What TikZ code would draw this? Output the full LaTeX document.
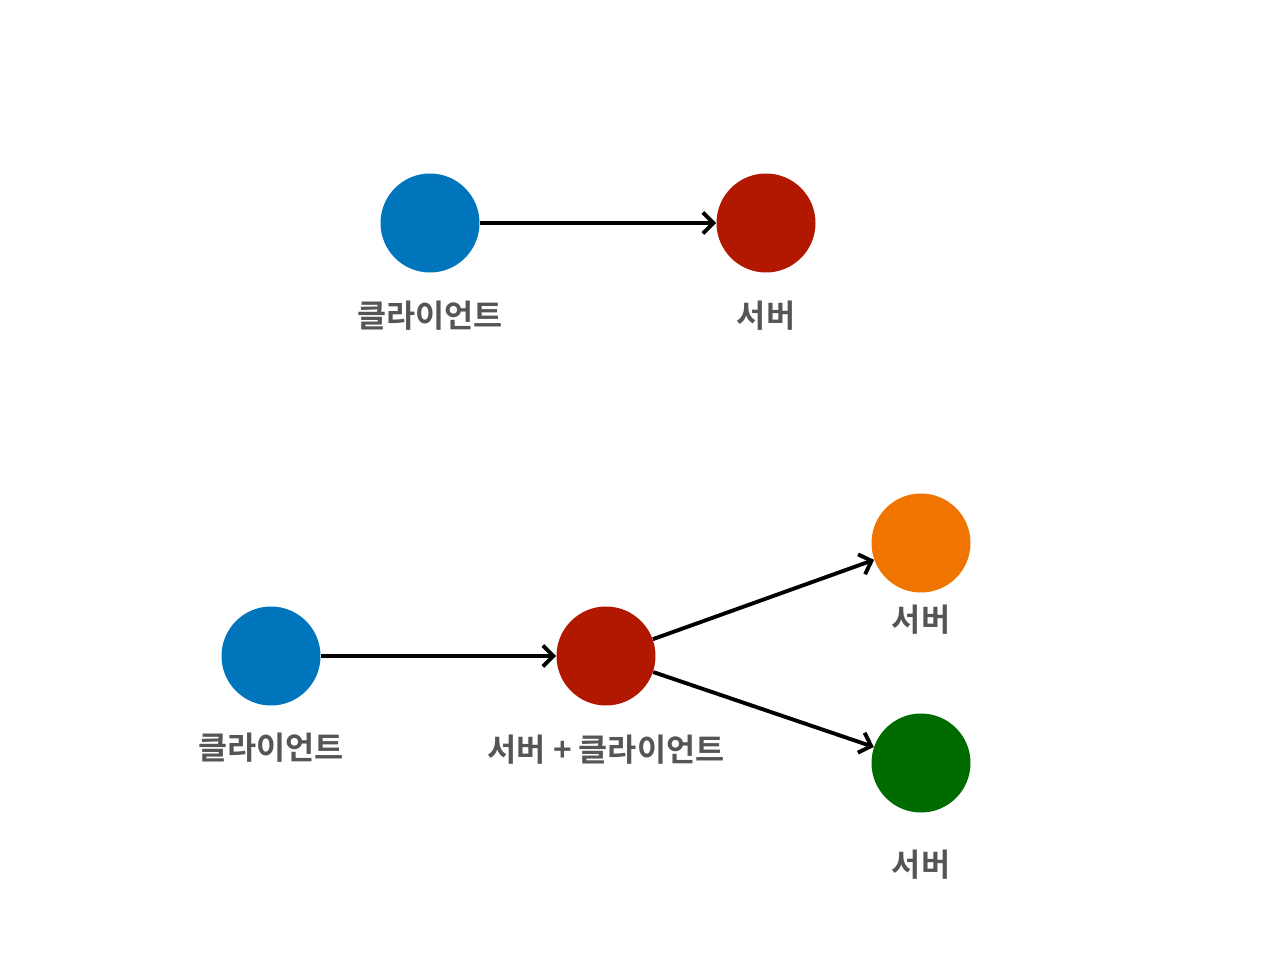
\documentclass[tikz,border=0pt]{standalone}
\usepackage{fontspec}
\newfontfamily\kofont{Noto Sans CJK KR Bold}
\usetikzlibrary{arrows.meta}

\definecolor{cblue}{HTML}{0075BB}
\definecolor{cred}{HTML}{B21800}
\definecolor{corange}{HTML}{F07400}
\definecolor{cgreen}{HTML}{006C00}
\definecolor{ctext}{HTML}{555555}

\begin{document}
\begin{tikzpicture}[x=0.02cm,y=-0.02cm,
  dot/.style={circle,inner sep=0pt,minimum size=1.98cm},
  tag/.style={text=ctext,font=\kofont\fontsize{18}{22}\selectfont},
  link/.style={-{Straight Barb[length=6pt,width=12pt]},line width=2.2pt}]
\useasboundingbox (0,0) rectangle (1280,956);

% Top: client -> server
\node[dot,fill=cblue] (client1) at (430,223) {};
\node[dot,fill=cred] (server1) at (766,223) {};
\node[tag] (clientlbl1) at (430,316) {클라이언트};
\node[tag] (serverlbl1) at (766,316) {서버};
\draw[link] (client1) -- (server1);

% Bottom: client -> server+client -> two servers
\node[dot,fill=cblue] (client2) at (271,656) {};
\node[dot,fill=cred] (relay) at (606,656) {};
\node[dot,fill=corange] (serverA) at (921,543) {};
\node[dot,fill=cgreen] (serverB) at (921,763) {};
\node[tag] (clientlbl2) at (271,748) {클라이언트};
\node[tag] (relaylbl) at (606,750) {서버 + 클라이언트};
\node[tag] (serverlblA) at (921,620) {서버};
\node[tag] (serverlblB) at (921,865) {서버};
\draw[link] (client2) -- (relay);
\draw[link] (relay) -- (serverA);
\draw[link] (relay) -- (serverB);
\end{tikzpicture}
\end{document}
